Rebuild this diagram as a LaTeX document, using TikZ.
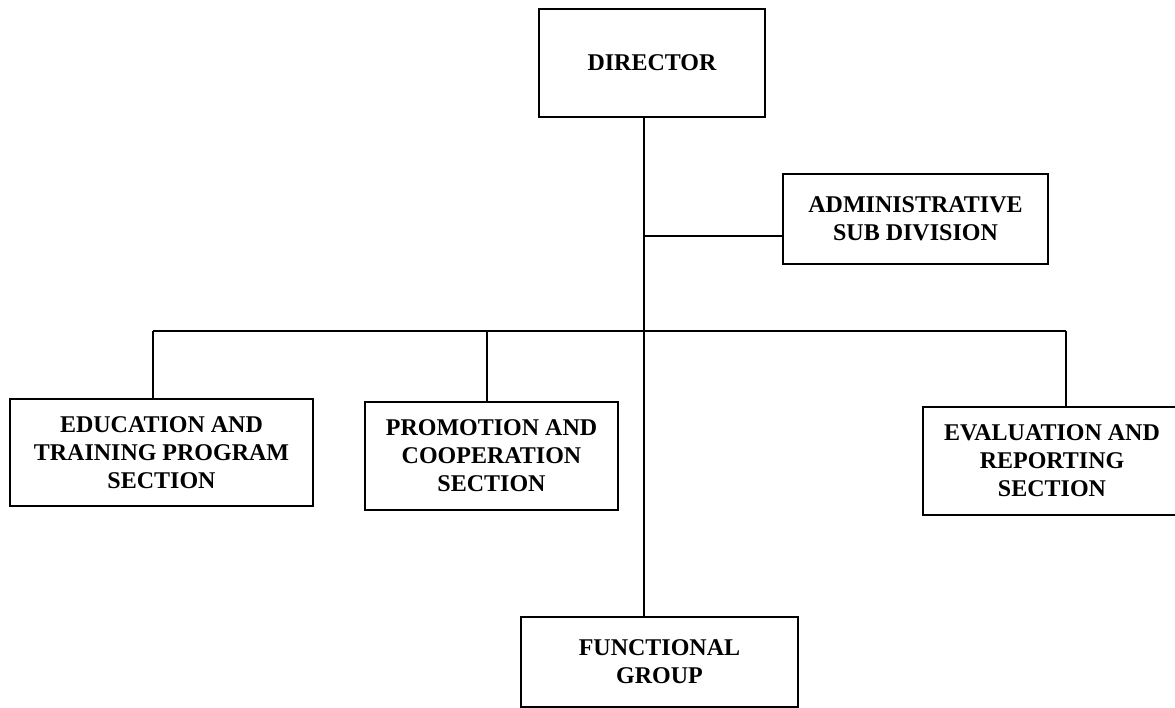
\documentclass[tikz,border=0pt]{standalone}
\usepackage{fontspec}
\setmainfont{Liberation Serif}
\begin{document}
\begin{tikzpicture}[x=1pt,y=-1pt,
  box/.style={draw, line width=1.2pt, rectangle, inner sep=0pt, align=center,
    font=\fontsize{24}{28}\selectfont\bfseries},
  link/.style={line width=1.2pt}]
\useasboundingbox (0,0) rectangle (1175,708);
\node[box, minimum width=226pt, minimum height=108pt] (director) at (652,63) {DIRECTOR};
\node[box, minimum width=265pt, minimum height=90pt] (admin) at (915.5,219) {ADMINISTRATIVE\\SUB DIVISION};
\node[box, minimum width=303pt, minimum height=107pt] (edu) at (161.5,452.5) {EDUCATION AND\\TRAINING PROGRAM\\SECTION};
\node[box, minimum width=253pt, minimum height=108pt] (promo) at (491.5,456) {PROMOTION AND\\COOPERATION\\SECTION};
\node[box, minimum width=258pt, minimum height=108pt] (eval) at (1052,461) {EVALUATION AND\\REPORTING\\SECTION};
\node[box, minimum width=277pt, minimum height=90pt] (func) at (659.5,662) {FUNCTIONAL\\GROUP};
\coordinate (jA) at (644,236);
\coordinate (jB) at (644,331);
\coordinate (bE) at (153,331);
\coordinate (bP) at (487,331);
\coordinate (bV) at (1066,331);
\draw[link] (director.south -| jA) -- (jA) -- (jB) -- (func.north -| jB);
\draw[link] (jA) -- (jA -| admin.west);
\draw[link] (bE) -- (bV);
\draw[link] (bE) -- (bE |- edu.north);
\draw[link] (bP) -- (bP |- promo.north);
\draw[link] (bV) -- (bV |- eval.north);
\end{tikzpicture}
\end{document}
